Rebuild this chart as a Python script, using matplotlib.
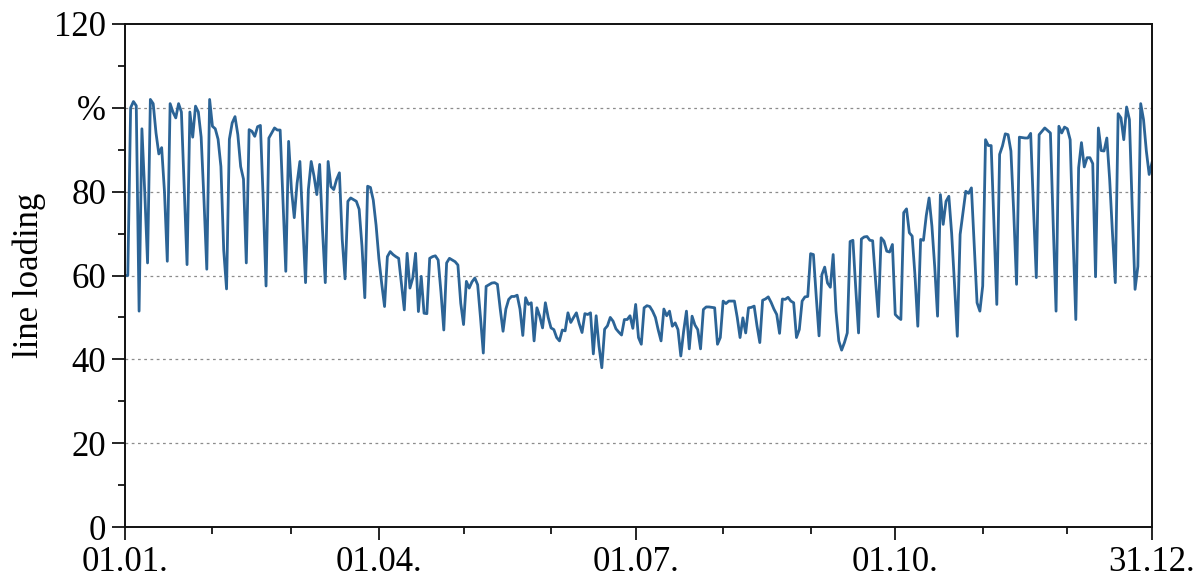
import matplotlib
matplotlib.use("Agg")
import matplotlib.pyplot as plt
import numpy as np

# daily line loading in % (one list per month)
jan = [60, 60, 100, 101.5, 100.5, 51.5, 95, 80, 63, 102, 101, 94, 89, 90.5, 80, 63.4,
       101, 99, 97.6, 101, 99, 81, 62.6, 99, 93, 100.4, 99, 93, 78, 61.5, 102]
feb = [95.6, 95, 92.5, 86, 66, 56.8, 92.5, 96.4, 97.9, 93.6, 86, 83, 63, 94.8, 94.4,
       93.2, 95.5, 95.8, 78, 57.5, 92.8, 94, 95.2, 94.7, 94.7, 78, 61, 92]
mar = [80.5, 73.8, 82, 87.2, 72.6, 58.3, 80.5, 87.2, 83.7, 79.3, 86.5, 71, 58.3, 87.2,
       81.2, 80.5, 82.9, 84.5, 68.6, 59.2, 77.7, 78.5, 78.1, 77.7, 75.8, 67, 54.7, 81.3,
       81, 78, 72]
apr = [64, 58, 52.6, 64.5, 65.7, 65, 64.5, 64.1, 58, 51.8, 65.3, 57, 59.4, 65.3, 51.4,
       59.8, 51, 50.9, 64.1, 64.5, 64.7, 63.7, 56, 47, 63, 64.1, 63.7, 63.3, 62.5, 53.4]
may = [48.3, 58.6, 57, 58.5, 59.4, 57.8, 50, 41.5, 57.4, 57.8, 58.2, 58.3, 57.9, 52,
       46.7, 52, 54.3, 55, 55, 55.3, 52, 45.7, 54.7, 53.1, 53.5, 44.4, 52.3, 50.3, 47.5,
       53.5, 50]
jun = [47.5, 47.1, 45.2, 44.4, 47, 46.8, 51.1, 48.8, 50, 51.1, 48.5, 46.4, 50.9, 50.7,
       51.1, 41.3, 50.4, 43.2, 38, 47.2, 48, 50, 49.1, 47.3, 46.5, 45.8, 49.5, 49.5,
       50.4, 47.4]
jul = [53.1, 45.2, 43.6, 52.3, 52.8, 52.6, 51.5, 50, 47, 44.4, 52, 50.4, 51.5, 47.9,
       48.7, 47.1, 40.8, 46.7, 51.5, 42.5, 50.3, 48.2, 47.1, 42.5, 51.9, 52.5, 52.5,
       52.4, 52.3, 43.6, 45.2]
aug = [53.9, 53.3, 53.9, 53.9, 53.9, 50, 45.2, 49.9, 46.3, 52.3, 52.4, 52.7, 48, 44,
       54.1, 54.4, 54.9, 53.6, 52, 50.7, 46.2, 54.4, 54.3, 54.8, 53.9, 53.5, 45.2, 47.1,
       53.9, 54.9, 55]
sep = [65.2, 65, 55, 45.6, 60.2, 62, 58.2, 57.2, 65, 51.5, 44.4, 42.2, 44, 46.3, 68.1,
       68.4, 57, 46.3, 68.7, 69.2, 69.3, 68.4, 68.3, 59, 50.2, 69, 68.2, 65.8, 65.6, 67.4]
oct_ = [50.7, 50, 49.5, 75, 75.9, 70.2, 69.4, 60, 47.9, 68.6, 68.4, 74.3, 78.5, 71.8,
        62, 50.3, 79.3, 72.2, 77.7, 78.9, 70, 58, 45.5, 69.8, 75, 80.1, 79.6, 80.9, 67,
        53.5, 51.5]
nov = [57.5, 92.4, 91, 91, 72, 53.1, 88.9, 90.9, 93.8, 93.6, 89.7, 75, 57.9, 93, 92.9,
       92.8, 92.8, 93.9, 76, 59.5, 93.6, 94.4, 95.2, 94.6, 94, 72, 51.5, 95.6, 94, 95.4]
dec = [95, 92.4, 70, 49.5, 85.7, 91.7, 85.9, 88.1, 88.1, 86.7, 59.7, 95.2, 89.8, 89.7,
       92.8, 82.9, 70, 58.3, 98.6, 97.6, 92.4, 100.2, 97.2, 76, 56.7, 62.2, 101, 97.2,
       89.7, 84.1, 86.9]

loading = jan + feb + mar + apr + may + jun + jul + aug + sep + oct_ + nov + dec
days = np.arange(len(loading))

major_days = [0, 90, 181, 273, 364]
major_labels = ["01.01.", "01.04.", "01.07.", "01.10.", "31.12."]
minor_days = [31, 59, 120, 151, 212, 243, 304, 334]
y_ticks = [0, 20, 40, 60, 80, 100, 120]
y_labels = ["0", "20", "40", "60", "80", "%", "120"]
y_minor = [10, 30, 50, 70, 90, 110]

plt.rcParams['font.family'] = ['Liberation Serif', 'DejaVu Serif']

fig = plt.figure(figsize=(12.04, 5.85), dpi=100)
ax = fig.add_axes([0.1038, 0.0991, 0.8530, 0.8599])

ax.plot(days, loading, color='#2c6496', lw=2.0, solid_joinstyle='round')

ax.set_xlim(0, 364)
ax.set_ylim(0, 120)
ax.set_xticks(major_days)
ax.set_xticklabels(major_labels)
ax.set_xticks(minor_days, minor=True)
ax.set_yticks(y_ticks)
ax.set_yticklabels(y_labels)
ax.set_yticks(y_minor, minor=True)

for yv in [20, 40, 60, 80, 100]:
    ax.axhline(yv, color='#8c8c8c', lw=0.9, linestyle=(0, (2.2, 2.8)), zorder=0)

ax.tick_params(axis='both', which='major', direction='out', length=9.5, width=1.2,
               labelsize=25, pad=4, colors='black')
ax.tick_params(axis='both', which='minor', direction='out', length=5, width=1.2)
ax.tick_params(top=False, right=False)
for s in ax.spines.values():
    s.set_linewidth(1.4)
    s.set_color('#111111')

ax.set_ylabel("line loading", fontsize=25, labelpad=6)

fig.savefig("out.png", dpi=100)
